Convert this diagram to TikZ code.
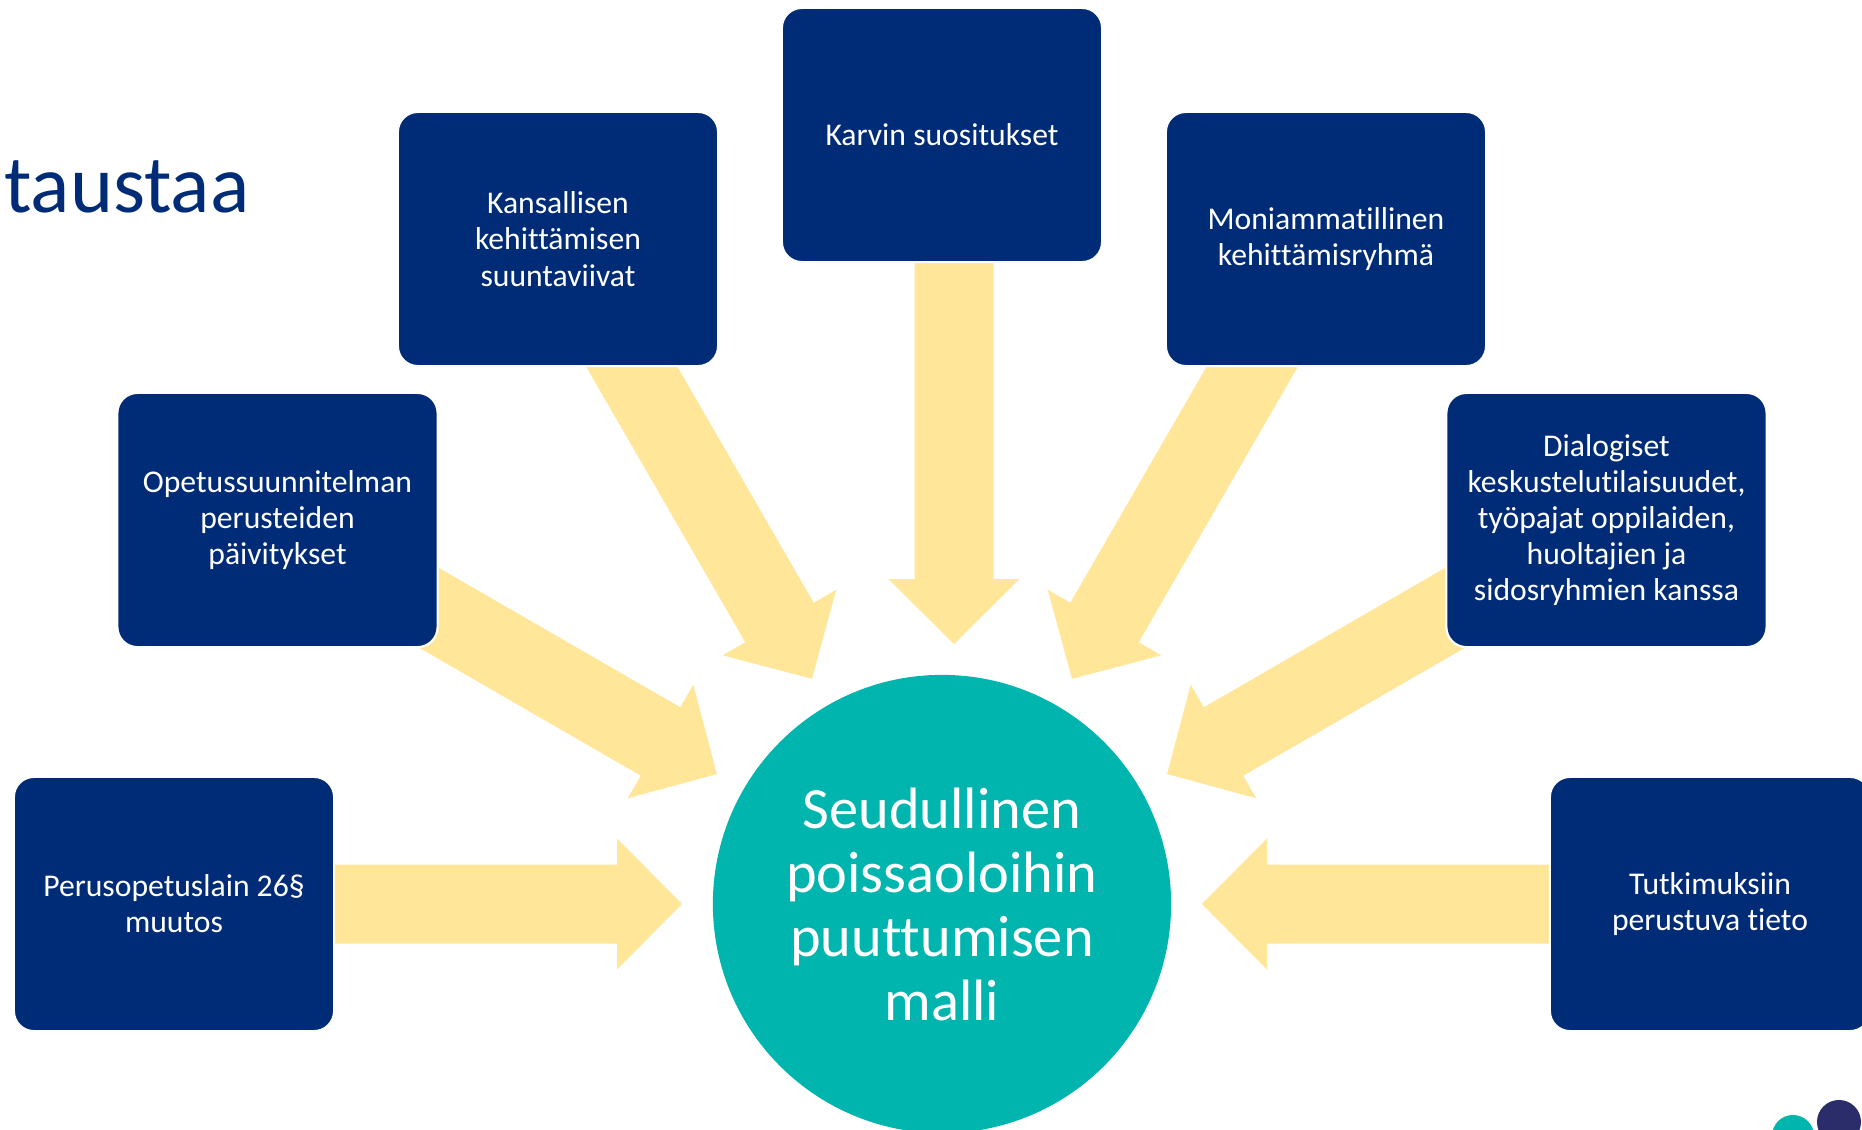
\documentclass[tikz,border=0pt]{standalone}
\usepackage{fontspec}
\setmainfont{Carlito}[Ligatures={NoCommon,NoRequired,NoContextual},Contextuals={NoAlternate}]
\usepackage{tikz}
\definecolor{boxblue}{HTML}{002C77}
\definecolor{hubteal}{HTML}{00B5AD}
\definecolor{feedgold}{HTML}{FFE699}
\definecolor{dotnavy}{HTML}{2B2D6B}

\begin{document}
\begin{tikzpicture}[x=0.01cm, y=-0.01cm,
      box/.style={rectangle, rounded corners=0.2cm, fill=boxblue,
        draw=white, line width=0.6pt,
        minimum width=3.2cm, minimum height=2.54cm,
        text=white, align=center,
        font=\fontsize{9}{10.3}\selectfont},
      hub/.style={circle, fill=hubteal, minimum size=4.58cm,
        inner sep=0pt, text=white, align=center,
        font=\fontsize{16.6}{18.2}\selectfont},
      feed/.style={fill=feedgold}]

    \path[use as bounding box, fill=white] (0,0) rectangle (1862,1130);

    \node[hub]
      (Model) at (942,904) {Seudullinen\\ poissaoloihin\\ puuttumisen\\ malli};

    \foreach \ang/\dx in {180/0,150/0,120/0,90/12,60/0,30/0,0/0}
      \fill[feed, shift={(Model.center)}, shift={(\dx,0)}, rotate=\ang]
        (260,0) -- (325,65.5) -- (325,39.5) -- (660,39.5)
        -- (660,-39.5) -- (325,-39.5) -- (325,-65.5) -- cycle;

    \node[box]
      (Law) at (174,904) {Perusopetuslain 26§\\ muutos};
    \node[box]
      (Curriculum) at (277.5,520) {Opetussuunnitelman\\ perusteiden\\ päivitykset};
    \node[box]
      (National) at (558,239) {Kansallisen\\ kehittämisen\\ suuntaviivat};
    \node[box]
      (Karvi) at (942,135) {Karvin suositukset};
    \node[box]
      (Team) at (1326,239) {Moniammatillinen\\ kehittämisryhmä};
    \node[box]
      (Dialogue) at (1606.5,520) {Dialogiset\\ keskustelutilaisuudet,\\ työpajat oppilaiden,\\ huoltajien ja\\ sidosryhmien kanssa};
    \node[box]
      (Research) at (1710,904) {Tutkimuksiin\\ perustuva tieto};

    \node[anchor=base east, inner sep=0pt, text=boxblue,
        font=\fontsize{23.3}{26}\selectfont]
      (Title) at (250,212) {taustaa};

    \fill[hubteal] (1793,1136) circle (0.21cm);
    \fill[dotnavy] (1839,1122) circle (0.22cm);

  \end{tikzpicture}
\end{document}
